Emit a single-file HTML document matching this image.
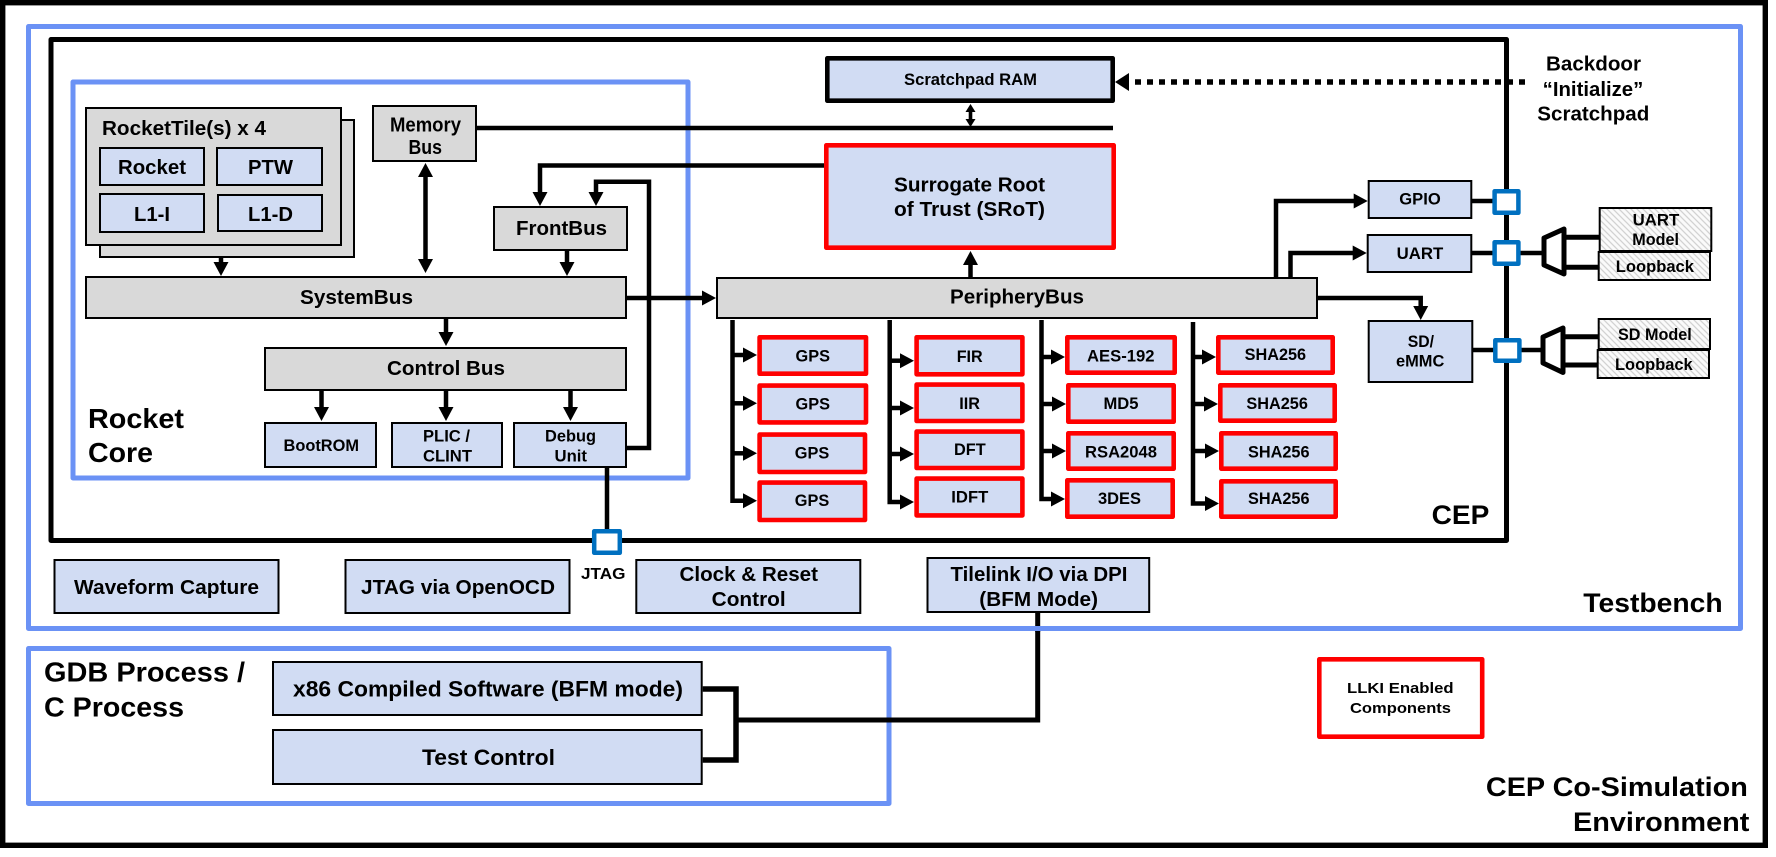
<!DOCTYPE html>
<html>
<head>
<meta charset="utf-8">
<style>
html,body{margin:0;padding:0;background:#fff;width:1776px;height:857px;overflow:hidden}
svg{display:block}
text{font-family:"Liberation Sans",Arial,sans-serif;font-weight:bold;fill:#000}
.b{fill:#D1DCF3;stroke:#000;stroke-width:2}
.g{fill:#D9D9D9;stroke:#000;stroke-width:2}
.r{fill:#D1DCF3;stroke:#F00;stroke-width:4.6;stroke-linejoin:round}
.h{fill:url(#hatch);stroke:#000;stroke-width:2}
.p{fill:#fff;stroke:#0070C0;stroke-width:4.5;stroke-linejoin:round}
.f{fill:none;stroke:#6B92F5;stroke-width:5;stroke-linejoin:round}
.l{fill:none;stroke:#000;stroke-width:4.5}
.a{fill:none;stroke:#000;stroke-width:4.5;marker-end:url(#ah)}
</style>
</head>
<body>
<svg width="1776" height="857" viewBox="0 0 1776 857" xmlns="http://www.w3.org/2000/svg">
<defs>
<marker id="ah" markerUnits="userSpaceOnUse" markerWidth="15" markerHeight="16" refX="2" refY="8" orient="auto"><path d="M0,0.5 L14,8 L0,15.5Z" fill="#000"/></marker>
<pattern id="hatch" width="6" height="6" patternUnits="userSpaceOnUse"><rect width="6" height="6" fill="#FAFAFA"/><path d="M0,0 L6,6 M-1,5 L1,7 M5,-1 L7,1" stroke="#D2D2D2" stroke-width="1.3"/></pattern>
</defs>
<rect width="1776" height="857" fill="#fff"/>

<!-- Outer frame -->
<rect x="2.7" y="2.7" width="1762.6" height="842.6" fill="none" stroke="#000" stroke-width="5.4"/>

<!-- Tilelink connection under the testbench frame -->
<path d="M1037.7,613 V632" fill="none" stroke="#000" stroke-width="5"/>
<rect x="28.5" y="26.5" width="1712" height="602" class="f"/>
<rect x="28.5" y="648.5" width="860.5" height="155" class="f"/>
<path d="M736,720 H1037.7 V631" fill="none" stroke="#000" stroke-width="5"/>
<path d="M702.7,689 H736 V760 H702.7" fill="none" stroke="#000" stroke-width="5.5"/>

<!-- CEP -->
<rect x="51" y="39.5" width="1455.5" height="501" fill="none" stroke="#000" stroke-width="5" stroke-linejoin="round"/>
<!-- Rocket core -->
<rect x="73" y="82" width="615" height="396" class="f"/>

<!-- Rocket tile -->
<rect x="100" y="120" width="254" height="137" class="g"/>
<rect x="86" y="108" width="255" height="137" class="g"/>
<rect x="100" y="148" width="104" height="37" class="b"/>
<rect x="217" y="148" width="105" height="37" class="b"/>
<rect x="100" y="194" width="104" height="38" class="b"/>
<rect x="218" y="195" width="104" height="36" class="b"/>

<!-- Buses in core -->
<rect x="373" y="106" width="103" height="55" class="g"/>
<rect x="494" y="207" width="133" height="43" class="g"/>
<rect x="86" y="277" width="540" height="41" class="g"/>
<rect x="265" y="348" width="361" height="42" class="g"/>
<rect x="265" y="423" width="111" height="44" class="b"/>
<rect x="392" y="423" width="110" height="44" class="b"/>
<rect x="514" y="423" width="112" height="44" class="b"/>

<!-- Connectors -->
<path class="l" d="M477,128 H1113"/>
<path class="a" d="M221,258 V264"/>
<path class="a" d="M425.5,218 V175"/>
<path class="a" d="M425.5,218 V261"/>
<path class="a" d="M825,165.5 H540 V194"/>
<path class="a" d="M627,448 H649 V181.7 H596 V194"/>
<path class="a" d="M567,251 V264"/>
<path class="a" d="M446,319 V334"/>
<path class="a" d="M321.5,391 V409"/>
<path class="a" d="M446,391 V409"/>
<path class="a" d="M570.5,391 V409"/>
<path class="a" d="M627,298 H704"/>
<path class="l" d="M607,468 V531"/>

<!-- Scratchpad and SRoT -->
<rect x="827.3" y="58.3" width="285.4" height="42.4" fill="#D1DCF3" stroke="#000" stroke-width="4.6" stroke-linejoin="round"/>
<rect x="826.3" y="145.3" width="287.4" height="102.4" class="r"/>
<path d="M970.5,104 L975.5,112 H972.3 V119 H975.5 L970.5,127 L965.5,119 H968.7 V112 H965.5Z" fill="#000"/>
<path d="M1135,82 H1525" fill="none" stroke="#000" stroke-width="5.5" stroke-dasharray="6 6"/>
<path d="M1115,82 L1129,73 V91Z" fill="#000"/>

<!-- Periphery bus -->
<rect x="717" y="278" width="600" height="40" class="g"/>
<path class="a" d="M970.5,277 V263"/>
<path class="a" d="M1276,277 V201 H1355.7"/>
<path class="a" d="M1290.5,277 V253 H1354.7"/>
<path class="a" d="M1318,298 H1420.7 V308"/>

<!-- GPS column -->
<path class="a" d="M732.5,320 V500.7 H745"/>
<path class="a" d="M732.5,355 H745"/>
<path class="a" d="M732.5,403.3 H745"/>
<path class="a" d="M732.5,453.3 H745"/>
<rect x="759.6" y="337.3" width="106.4" height="36.4" class="r"/>
<rect x="759.6" y="385.6" width="106.4" height="36.8" class="r"/>
<rect x="759.6" y="434.6" width="105.4" height="37.4" class="r"/>
<rect x="759.6" y="482.6" width="105.4" height="37.4" class="r"/>
<!-- DSP column -->
<path class="a" d="M889.7,320 V502 H902"/>
<path class="a" d="M889.7,360.7 H902"/>
<path class="a" d="M889.7,408 H902"/>
<path class="a" d="M889.7,454 H902"/>
<rect x="916.6" y="337.3" width="105.8" height="37" class="r"/>
<rect x="916.6" y="384.6" width="105.8" height="36.4" class="r"/>
<rect x="916.6" y="431.6" width="105.8" height="36.4" class="r"/>
<rect x="916.6" y="478.6" width="105.8" height="36.8" class="r"/>
<!-- Crypto column -->
<path class="a" d="M1041.5,320 V499 H1053"/>
<path class="a" d="M1041.5,357 H1053"/>
<path class="a" d="M1041.5,404 H1054"/>
<path class="a" d="M1041.5,451 H1054"/>
<rect x="1067.3" y="337.3" width="107.4" height="35.4" class="r"/>
<rect x="1068.3" y="385.3" width="105.4" height="36.4" class="r"/>
<rect x="1068.3" y="433.3" width="105.4" height="35.4" class="r"/>
<rect x="1067.3" y="480.3" width="105.4" height="36.4" class="r"/>
<!-- SHA column -->
<path class="a" d="M1193,322 V503.5 H1207"/>
<path class="a" d="M1193,357 H1204"/>
<path class="a" d="M1193,404 H1206"/>
<path class="a" d="M1193,451 H1207"/>
<rect x="1218.3" y="337.3" width="114.4" height="35.4" class="r"/>
<rect x="1220.3" y="385.3" width="114.4" height="35.4" class="r"/>
<rect x="1221.3" y="433.3" width="114.4" height="35.4" class="r"/>
<rect x="1221.3" y="481.3" width="114.4" height="35.4" class="r"/>

<!-- IO -->
<path class="l" d="M1472,201 H1494"/>
<path class="l" d="M1472,253 H1494"/>
<path class="l" d="M1473,350 H1495"/>
<path class="l" d="M1520,253 H1544"/>
<path class="l" d="M1521,350 H1543"/>
<path d="M1565,237.3 H1599" fill="none" stroke="#000" stroke-width="5"/>
<path d="M1565,267.3 H1599" fill="none" stroke="#000" stroke-width="5"/>
<path d="M1564,336.7 H1598" fill="none" stroke="#000" stroke-width="5"/>
<path d="M1564,365 H1598" fill="none" stroke="#000" stroke-width="5"/>
<rect x="1368.7" y="181" width="102.6" height="37" class="b"/>
<rect x="1367.7" y="235" width="103.6" height="37" class="b"/>
<rect x="1368.7" y="321" width="103.6" height="61" class="b"/>
<rect x="1494.6" y="191.2" width="23.8" height="21.6" class="p"/>
<rect x="1494.6" y="242.2" width="23.8" height="21.6" class="p"/>
<rect x="1495.3" y="340.2" width="24.1" height="20.6" class="p"/>
<path d="M1544,238 L1564,229 V274 L1544,265Z" fill="#fff" stroke="#000" stroke-width="5" stroke-linejoin="round"/>
<path d="M1543,337 L1563,328 V372.5 L1543,363Z" fill="#fff" stroke="#000" stroke-width="5" stroke-linejoin="round"/>
<rect x="1599.7" y="208" width="111.6" height="43" class="h"/>
<rect x="1598.7" y="252" width="111.3" height="28" class="h"/>
<rect x="1598.7" y="319" width="111.3" height="30" class="h"/>
<rect x="1597.7" y="350" width="111.3" height="28" class="h"/>

<!-- JTAG port -->
<rect x="594.2" y="531.2" width="25.6" height="21.6" class="p"/>

<!-- Bottom boxes -->
<rect x="54.5" y="560" width="224" height="53" class="b"/>
<rect x="345.5" y="560" width="224" height="53" class="b"/>
<rect x="636.3" y="560" width="224" height="53" class="b"/>
<rect x="927.5" y="558" width="221.7" height="54" class="b"/>
<rect x="273" y="662" width="428.7" height="53" class="b"/>
<rect x="273" y="730" width="428.7" height="54" class="b"/>
<rect x="1319.3" y="659.3" width="162.9" height="77.4" fill="#fff" stroke="#F00" stroke-width="4.6" stroke-linejoin="round"/>

<!-- Text -->
<g font-size="20">
<text x="102" y="135" textLength="164" lengthAdjust="spacingAndGlyphs">RocketTile(s) x 4</text>
<text x="118" y="174" textLength="68" lengthAdjust="spacingAndGlyphs">Rocket</text>
<text x="248" y="174" textLength="45" lengthAdjust="spacingAndGlyphs">PTW</text>
<text x="134" y="221" textLength="36" lengthAdjust="spacingAndGlyphs">L1-I</text>
<text x="248" y="221" textLength="45" lengthAdjust="spacingAndGlyphs">L1-D</text>
<text x="390" y="131.5" textLength="71" lengthAdjust="spacingAndGlyphs">Memory</text>
<text x="408.5" y="154" textLength="33.5" lengthAdjust="spacingAndGlyphs">Bus</text>
<text x="516" y="235" textLength="91" lengthAdjust="spacingAndGlyphs">FrontBus</text>
<text x="300" y="304" textLength="113" lengthAdjust="spacingAndGlyphs">SystemBus</text>
<text x="387" y="375" textLength="118" lengthAdjust="spacingAndGlyphs">Control Bus</text>
<text x="894" y="191.5" textLength="151" lengthAdjust="spacingAndGlyphs">Surrogate Root</text>
<text x="894" y="216" textLength="151" lengthAdjust="spacingAndGlyphs">of Trust (SRoT)</text>
<text x="950" y="303.6" textLength="134" lengthAdjust="spacingAndGlyphs">PeripheryBus</text>
<text x="1546" y="70.7" textLength="95" lengthAdjust="spacingAndGlyphs">Backdoor</text>
<text x="1542.7" y="96" textLength="100.6" lengthAdjust="spacingAndGlyphs">“Initialize”</text>
<text x="1537.3" y="120.7" textLength="112" lengthAdjust="spacingAndGlyphs">Scratchpad</text>
<text x="74" y="594" textLength="185" lengthAdjust="spacingAndGlyphs">Waveform Capture</text>
<text x="361" y="594" textLength="194" lengthAdjust="spacingAndGlyphs">JTAG via OpenOCD</text>
<text x="679.5" y="581" textLength="138.5" lengthAdjust="spacingAndGlyphs">Clock &amp; Reset</text>
<text x="711.7" y="606" textLength="74" lengthAdjust="spacingAndGlyphs">Control</text>
<text x="950.5" y="581" textLength="177" lengthAdjust="spacingAndGlyphs">Tilelink I/O via DPI</text>
<text x="979.3" y="606" textLength="118.7" lengthAdjust="spacingAndGlyphs">(BFM Mode)</text>
<text x="422" y="765" font-size="22" textLength="133" lengthAdjust="spacingAndGlyphs">Test Control</text>
<text x="293" y="696.7" font-size="22" textLength="390" lengthAdjust="spacingAndGlyphs">x86 Compiled Software (BFM mode)</text>
</g>
<g font-size="16.5">
<text x="283.5" y="451" textLength="75.5" lengthAdjust="spacingAndGlyphs">BootROM</text>
<text x="423" y="441.7" textLength="47" lengthAdjust="spacingAndGlyphs">PLIC /</text>
<text x="423" y="461.7" textLength="49" lengthAdjust="spacingAndGlyphs">CLINT</text>
<text x="545" y="441.7" textLength="51" lengthAdjust="spacingAndGlyphs">Debug</text>
<text x="554.5" y="461.7" textLength="32.5" lengthAdjust="spacingAndGlyphs">Unit</text>
<text x="904" y="85" textLength="133" lengthAdjust="spacingAndGlyphs">Scratchpad RAM</text>
<text x="795.5" y="361.7" textLength="34.5" lengthAdjust="spacingAndGlyphs">GPS</text>
<text x="795.5" y="409.3" textLength="34.5" lengthAdjust="spacingAndGlyphs">GPS</text>
<text x="794.8" y="458.3" textLength="34.5" lengthAdjust="spacingAndGlyphs">GPS</text>
<text x="794.8" y="506" textLength="34.5" lengthAdjust="spacingAndGlyphs">GPS</text>
<text x="956.7" y="362" textLength="26" lengthAdjust="spacingAndGlyphs">FIR</text>
<text x="959.3" y="409" textLength="20.7" lengthAdjust="spacingAndGlyphs">IIR</text>
<text x="954" y="455" textLength="31.7" lengthAdjust="spacingAndGlyphs">DFT</text>
<text x="951.3" y="502.7" textLength="37" lengthAdjust="spacingAndGlyphs">IDFT</text>
<text x="1087" y="361.5" textLength="67.5" lengthAdjust="spacingAndGlyphs">AES-192</text>
<text x="1103.5" y="409" textLength="35" lengthAdjust="spacingAndGlyphs">MD5</text>
<text x="1085" y="457.5" textLength="72" lengthAdjust="spacingAndGlyphs">RSA2048</text>
<text x="1098" y="504" textLength="43" lengthAdjust="spacingAndGlyphs">3DES</text>
<text x="1244.6" y="360" textLength="61.5" lengthAdjust="spacingAndGlyphs">SHA256</text>
<text x="1246.4" y="409" textLength="61.5" lengthAdjust="spacingAndGlyphs">SHA256</text>
<text x="1248" y="457.5" textLength="61.5" lengthAdjust="spacingAndGlyphs">SHA256</text>
<text x="1248" y="504" textLength="61.5" lengthAdjust="spacingAndGlyphs">SHA256</text>
<text x="1399.3" y="204.7" textLength="41.4" lengthAdjust="spacingAndGlyphs">GPIO</text>
<text x="1396.7" y="259" textLength="46.6" lengthAdjust="spacingAndGlyphs">UART</text>
<text x="1407.7" y="347" textLength="26.3" lengthAdjust="spacingAndGlyphs">SD/</text>
<text x="1396" y="366.7" textLength="48.3" lengthAdjust="spacingAndGlyphs">eMMC</text>
<text x="1632.7" y="225.7" textLength="46.6" lengthAdjust="spacingAndGlyphs">UART</text>
<text x="1632.3" y="245" textLength="46.7" lengthAdjust="spacingAndGlyphs">Model</text>
<text x="1615.7" y="272" textLength="78.3" lengthAdjust="spacingAndGlyphs">Loopback</text>
<text x="1618" y="340" textLength="73.7" lengthAdjust="spacingAndGlyphs">SD Model</text>
<text x="1615" y="370" textLength="77.7" lengthAdjust="spacingAndGlyphs">Loopback</text>
<text x="581" y="579" font-size="15.5" textLength="44.5" lengthAdjust="spacingAndGlyphs">JTAG</text>
<text x="1347" y="693" font-size="15" textLength="106.6" lengthAdjust="spacingAndGlyphs">LLKI Enabled</text>
<text x="1350" y="713" font-size="15" textLength="101" lengthAdjust="spacingAndGlyphs">Components</text>
</g>
<g font-size="28">
<text x="88" y="428" textLength="96" lengthAdjust="spacingAndGlyphs">Rocket</text>
<text x="88" y="462" textLength="65" lengthAdjust="spacingAndGlyphs">Core</text>
<text x="1431.6" y="524" font-size="27" textLength="57.7" lengthAdjust="spacingAndGlyphs">CEP</text>
<text x="1583.3" y="612" font-size="27" textLength="139.4" lengthAdjust="spacingAndGlyphs">Testbench</text>
<text x="1485.9" y="796" font-size="27" textLength="262" lengthAdjust="spacingAndGlyphs">CEP Co-Simulation</text>
<text x="1573" y="831" font-size="27" textLength="176.4" lengthAdjust="spacingAndGlyphs">Environment</text>
<text x="44" y="681.7" textLength="201" lengthAdjust="spacingAndGlyphs">GDB Process /</text>
<text x="44" y="716.7" textLength="140" lengthAdjust="spacingAndGlyphs">C Process</text>
</g>
</svg>
</body>
</html>
